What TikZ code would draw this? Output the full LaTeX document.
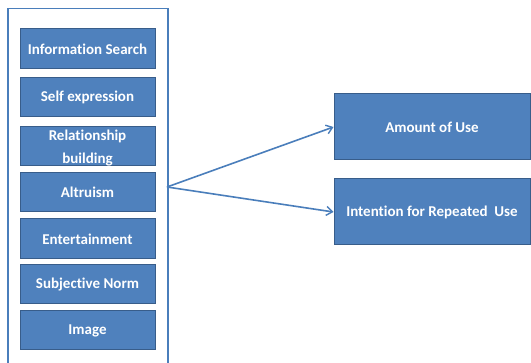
\documentclass[tikz,border=0pt]{standalone}
\usepackage{fontspec}
\setmainfont[Ligatures=NoCommon]{Carlito}
\usetikzlibrary{arrows.meta}
\definecolor{boxfill}{HTML}{4F81BD}
\definecolor{boxline}{HTML}{385D8A}
\definecolor{frameline}{HTML}{4A7EBB}
\begin{document}
\begin{tikzpicture}[x=1pt,y=-1pt,
  factor/.style={draw=boxline,line width=1pt,fill=boxfill,text=white,
    font=\bfseries\fontsize{15}{18}\selectfont,align=center,inner sep=0pt},
  conn/.style={draw=frameline,line width=1.6pt,-{Straight Barb[length=6pt,width=9pt,line width=1.4pt]}}]
\useasboundingbox (0,0) rectangle (531,363);
\fill[white] (0,0) rectangle (531,363);
% container
\node[draw=frameline,line width=1.5pt,minimum width=160pt,minimum height=362pt,inner sep=0pt,anchor=north west] (frame) at (7,8) {};
% left factors
\node[factor,minimum width=135pt,minimum height=40pt] (f1) at (87.5,49) {Information Search};
\node[factor,minimum width=135pt,minimum height=39pt] (f2) at (87.5,97.5) {Self expression};
\node[factor,minimum width=135pt,minimum height=39pt] (f3) at (87.5,146.5) {};
\node[text=white,font=\bfseries\fontsize{15}{18}\selectfont,align=center,inner sep=0pt] (f3t) at (87.5,148.5) {Relationship\\[5pt]building};
\node[factor,minimum width=135pt,minimum height=39pt] (f4) at (87.5,192.5) {Altruism};
\node[factor,minimum width=135pt,minimum height=40pt] (f5) at (87.5,239) {Entertainment};
\node[factor,minimum width=135pt,minimum height=39pt] (f6) at (87.5,284.5) {Subjective Norm};
\node[factor,minimum width=135pt,minimum height=39pt] (f7) at (87.5,330.5) {Image};
% outcomes
\node[factor,minimum width=196pt,minimum height=66pt] (o1) at (432,127) {Amount of Use};
\node[factor,minimum width=196pt,minimum height=66pt] (o2) at (432,212) {Intention for Repeated\ \ Use};
% arrows
\coordinate (src) at (167,187);
\draw[conn] (src) -- (o1.west);
\draw[conn] (src) -- (o2.west);
\end{tikzpicture}
\end{document}
